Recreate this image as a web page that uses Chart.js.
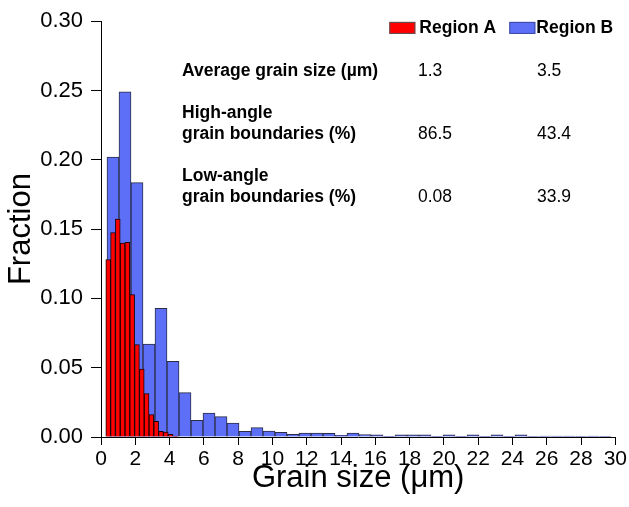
<!DOCTYPE html>
<html>
<head>
<meta charset="utf-8">
<script src="https://cdn.jsdelivr.net/npm/chart.js@4/dist/chart.umd.min.js"></script>
<style>
  html, body { margin: 0; padding: 0; background: #fff; }
  #wrap { width: 629px; height: 507px; position: relative; }
</style>
</head>
<body>
<div id="wrap"><canvas id="c" width="629" height="507"></canvas></div>
<script>
// ---- Data ----
// Region A histogram: bin centres (µm) and fractions
const binCentersA = [0.42, 0.70, 0.98, 1.26, 1.54, 1.82, 2.10, 2.38, 2.66, 2.94, 3.22, 3.50, 3.78, 4.06, 4.34];
const fractionA   = [0.128, 0.1475, 0.1573, 0.140, 0.1405, 0.1027, 0.0667, 0.049, 0.0313, 0.0162, 0.0113, 0.0041, 0.0036, 0.0019, 0.0007];

// Region B histogram: bin centres (µm) and fractions
const binCentersB = [0.7, 1.4, 2.1, 2.8, 3.5, 4.2, 4.9, 5.6, 6.3, 7.0, 7.7, 8.4, 9.1, 9.8, 10.5, 11.2, 11.9, 12.6, 13.3, 14.0,
                     14.7, 15.4, 16.1, 16.8, 17.5, 18.2, 18.9, 19.6, 20.3, 21.0, 21.7, 22.4, 23.1, 23.8, 24.5, 25.2, 25.9, 26.6, 27.3, 28.0, 28.7, 29.4];
const fractionB   = [0.202, 0.249, 0.1835, 0.067, 0.0928, 0.0546, 0.032, 0.012, 0.0173, 0.0147, 0.0101, 0.0041, 0.0068, 0.0043, 0.0034, 0.0019, 0.0029, 0.0028, 0.0027, 0.0012,
                     0.0028, 0.0018, 0.0015, 0.0005, 0.0015, 0.0015, 0.0015, 0.0005, 0.0015, 0.0005, 0.0015, 0.0005, 0.0015, 0.0005, 0.0015, 0.0003, 0.0007, 0.0007, 0.0007, 0.0003, 0.0007, 0.0003];

const seriesNames = ['Region A', 'Region B'];

// Inset table
const tableRowLabels = [['Average grain size (µm)'], ['High-angle', 'grain boundaries (%)'], ['Low-angle', 'grain boundaries (%)']];
const tableValuesA = ['1.3', '86.5', '0.08'];
const tableValuesB = ['3.5', '43.4', '33.9'];

// Axis ticks
const xTickStep = 2;
const yTickStep = 0.05;
const xMax = 30;
const yMax = 0.30;

// ---- Chart ----
const FONT = '"Liberation Sans", Arial, Helvetica, sans-serif';
Chart.defaults.font.family = FONT;
Chart.defaults.color = '#000';

const toXY = (xs, ys) => xs.map((x, i) => ({ x: x, y: ys[i] }));

const insetPlugin = {
  id: 'inset',
  afterDraw(chart) {
    const ctx = chart.ctx;
    const a = chart.chartArea;
    ctx.save();
    // Legend
    const ds = chart.data.datasets;
    ctx.font = 'bold 17.5px ' + FONT;
    ctx.textBaseline = 'middle';
    ctx.textAlign = 'left';
    const legendPos = [a.right - 226, a.right - 106];
    const boxY = a.top + 0.7;
    ds.forEach((d, i) => {
      const bx = legendPos[i];
      ctx.fillStyle = d.backgroundColor;
      ctx.fillRect(bx, boxY, 26, 12);
      ctx.strokeStyle = d.legendBorder;
      ctx.lineWidth = 1;
      ctx.strokeRect(bx + 0.5, boxY + 0.5, 25, 11);
      ctx.fillStyle = '#000';
      ctx.fillText(d.label, bx + (i === 0 ? 30 : 27), boxY + 6.5);
    });

    // Table
    ctx.textBaseline = 'alphabetic';
    const labelX = a.left + 81;
    const colA = a.left + 317;
    const colB = a.left + 436;
    const rowBase = [a.top + 55, a.top + 118, a.top + 181];
    const lineGap = 21;
    tableRowLabels.forEach((lines, r) => {
      ctx.font = 'bold 17.5px ' + FONT;
      const lastY = rowBase[r];
      lines.forEach((t, k) => {
        const y = lastY - (lines.length - 1 - k) * lineGap;
        ctx.fillText(t, labelX, y);
      });
      ctx.font = '17.5px ' + FONT;
      ctx.fillText(tableValuesA[r], colA, lastY);
      ctx.fillText(tableValuesB[r], colB, lastY);
    });
    ctx.restore();
  }
};

new Chart(document.getElementById('c'), {
  type: 'bar',
  data: {
    datasets: [
      {
        label: seriesNames[0],
        data: toXY(binCentersA, fractionA),
        xAxisID: 'x2',
        backgroundColor: '#ff0000',
        borderColor: '#1a0000',
        legendBorder: '#555',
        borderWidth: 1,
        borderSkipped: 'bottom',
        grouped: false,
        barPercentage: 1,
        categoryPercentage: 1
      },
      {
        label: seriesNames[1],
        data: toXY(binCentersB, fractionB),
        xAxisID: 'x',
        backgroundColor: '#5e6ff7',
        borderColor: '#2b2d45',
        legendBorder: '#3a4aa0',
        borderWidth: 1,
        borderSkipped: 'bottom',
        grouped: false,
        barPercentage: 1,
        categoryPercentage: 1
      }
    ]
  },
  options: {
    responsive: false,
    animation: false,
    devicePixelRatio: 1,
    layout: { padding: { top: 21, right: 13, left: 0, bottom: 0 } },
    plugins: {
      legend: { display: false },
      tooltip: { enabled: false }
    },
    scales: {
      x: {
        type: 'linear',
        position: 'bottom',
        offset: false,
        min: 0,
        max: xMax,
        afterFit: (s) => { s.height = 70; },
        ticks: { stepSize: xTickStep, font: { size: 21 }, padding: 2, maxRotation: 0, autoSkip: false, color: '#000' },
        grid: { display: true, offset: false, drawOnChartArea: false, drawTicks: true, tickLength: 8, tickColor: '#000', tickWidth: 1 },
        border: { display: true, color: '#000', width: 1 },
        title: { display: true, text: 'Grain size (μm)', font: { size: 31 }, padding: { top: 0, bottom: 10 }, color: '#000' }
      },
      x2: {
        type: 'linear',
        position: 'bottom',
        offset: false,
        min: 0,
        max: xMax,
        display: false,
        grid: { offset: false },
        ticks: { stepSize: 10 }
      },
      y: {
        type: 'linear',
        min: 0,
        max: yMax,
        afterFit: (s) => { s.width = 101; },
        ticks: { stepSize: yTickStep, font: { size: 22 }, padding: 8, color: '#000',
                 callback: (v) => Number(v).toFixed(2) },
        grid: { display: true, drawOnChartArea: false, drawTicks: true, tickLength: 10, tickColor: '#000', tickWidth: 1 },
        border: { display: true, color: '#000', width: 1 },
        title: { display: true, text: 'Fraction', font: { size: 31 }, padding: { top: 3, bottom: 0 }, color: '#000' }
      }
    }
  },
  plugins: [insetPlugin]
});
</script>
</body>
</html>
